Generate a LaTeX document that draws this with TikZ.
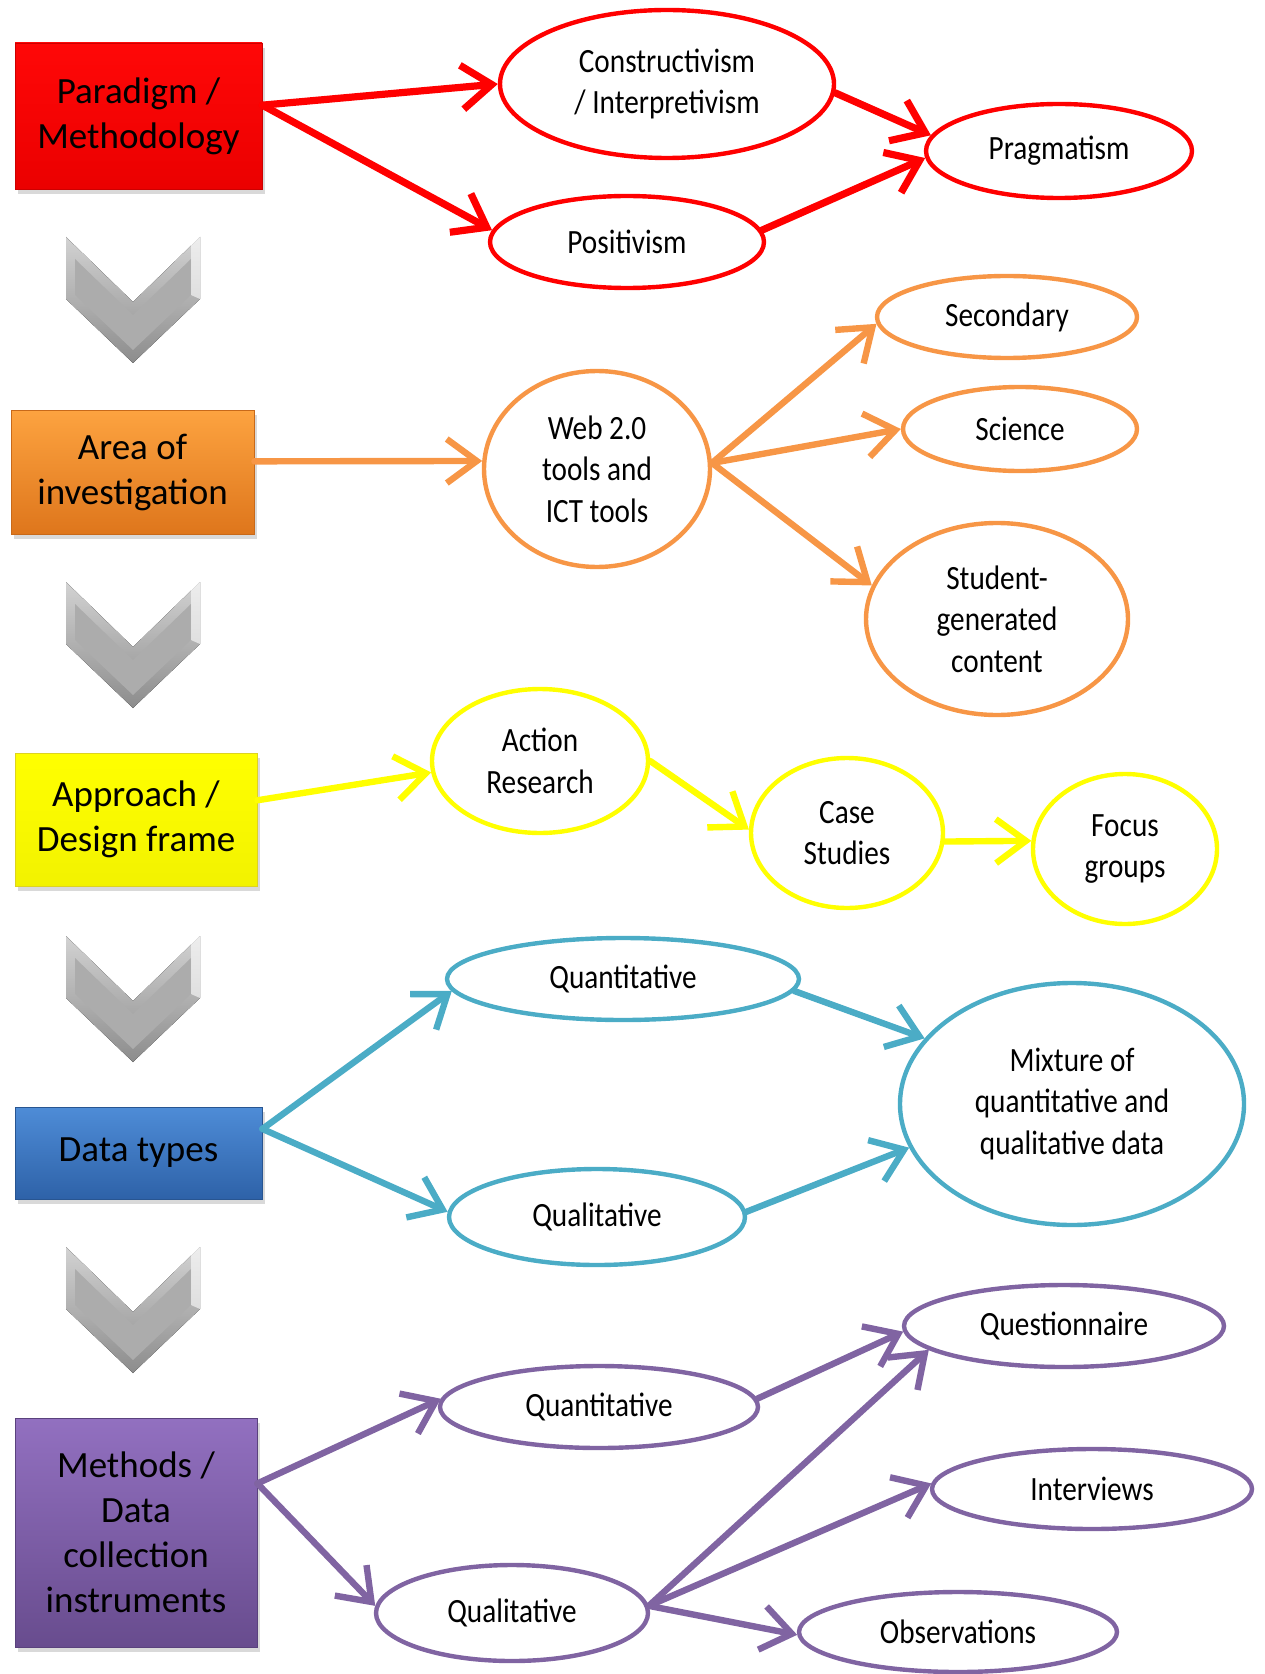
\documentclass[tikz,border=0pt]{standalone}
\usepackage{fontspec}
\setmainfont{Carlito}
\newfontfamily\ellfont[FakeStretch=0.86]{Carlito}
\usepackage{tikz}
\usetikzlibrary{shapes,arrows.meta,positioning,calc,shadows}
\definecolor{cRed}{RGB}{255,0,0}
\definecolor{cOrange}{RGB}{247,150,70}
\definecolor{cYellow}{RGB}{255,255,0}
\definecolor{cAqua}{RGB}{75,172,198}
\definecolor{cPurple}{RGB}{128,100,162}
\definecolor{orgTop}{RGB}{253,163,64}
\definecolor{orgBot}{RGB}{222,118,28}
\definecolor{orgLine}{RGB}{200,105,25}
\definecolor{bluTop}{RGB}{78,140,215}
\definecolor{bluBot}{RGB}{46,98,168}
\definecolor{bluLine}{RGB}{40,85,145}
\definecolor{purTop}{RGB}{146,112,192}
\definecolor{purBot}{RGB}{104,76,142}
\definecolor{purLine}{RGB}{90,66,125}
\definecolor{chevFace}{RGB}{172,172,172}

\begin{document}
\begin{tikzpicture}[
      x=0.5pt,y=-0.5pt,
      box/.style = {rectangle,text centered,align=center,inner sep=0pt,
        font=\fontsize{18.5}{22.5}\selectfont,
        drop shadow={shadow xshift=1.5pt,shadow yshift=-2.5pt,opacity=0.3}},
      oval/.style = {ellipse,draw,fill=white,line width=2.2pt,align=center,inner sep=0pt,
        font=\ellfont\fontsize{17}{20.8}\selectfont},
      arrow/.style = {-{Straight Barb[length=15pt,width=22pt]},line width=3.2pt,line cap=round,line join=round}
    ]
      \useasboundingbox (0,0) rectangle (1264,1674);
      % left column
      \node (para)[box,top color=red!97!white,bottom color=red!92!black,draw=red!80!black,
        minimum width=123.5pt,minimum height=73pt] at (138.5,116) {Paradigm /\\Methodology};
      \node (area)[box,top color=orgTop,bottom color=orgBot,draw=orgLine,
        minimum width=121.5pt,minimum height=62pt] at (132.5,472) {Area of\\investigation};
      \node (appr)[box,top color=yellow,bottom color=yellow!95!black,draw=yellow!85!black,
        minimum width=121pt,minimum height=66.5pt] at (136,819.5) {Approach /\\Design frame};
      \node (dtyp)[box,top color=bluTop,bottom color=bluBot,draw=bluLine,
        minimum width=123.5pt,minimum height=46pt] at (138.5,1153) {Data types};
      \node (meth)[box,top color=purTop,bottom color=purBot,draw=purLine,
        minimum width=121pt,minimum height=114.5pt] at (136,1532.5) {Methods /\\Data\\collection\\instruments};
      % chevrons
      \foreach \t in {237,582,936,1247}{
        \fill[top color=gray!35,bottom color=gray!90] (66,\t) -- (133,\t+65) -- (200,\t) -- (200,\t+62) -- (133,\t+126) -- (66,\t+62) -- cycle;
        \fill[chevFace] (75,\t+22) -- (133,\t+78) -- (191,\t+22) -- (191,\t+58) -- (133,\t+113) -- (75,\t+58) -- cycle;
        \fill[white,opacity=0.6] (191,\t+4) -- (200,\t) -- (200,\t+62) -- (191,\t+58) -- cycle;
      }
      % paradigm
      \node (cons)[oval,draw=cRed,minimum width=167pt,minimum height=74pt] at (667,84) {Constructivism\\/ Interpretivism};
      \node (prag)[oval,draw=cRed,minimum width=133pt,minimum height=47pt] at (1059,151) {Pragmatism};
      \node (posi)[oval,draw=cRed,minimum width=137pt,minimum height=46pt] at (627,242) {Positivism};
      % area
      \node (web)[oval,draw=cOrange,minimum width=113pt,minimum height=98pt] at (597,469) {Web 2.0\\tools and\\ICT tools};
      \node (secd)[oval,draw=cOrange,minimum width=130pt,minimum height=41pt] at (1007,317) {Secondary};
      \node (sci)[oval,draw=cOrange,minimum width=117pt,minimum height=42pt] at (1020,429) {Science};
      \node (stud)[oval,draw=cOrange,minimum width=131pt,minimum height=96pt] at (997,619) {Student-\\generated\\content};
      % approach
      \node (action)[oval,draw=cYellow,minimum width=108pt,minimum height=72pt] at (540,761) {Action\\Research};
      \node (case)[oval,draw=cYellow,minimum width=96pt,minimum height=75pt] at (847,833) {Case\\Studies};
      \node (focus)[oval,draw=cYellow,minimum width=92pt,minimum height=75pt] at (1125,849) {Focus\\groups};
      % data types
      \node (quant)[oval,draw=cAqua,minimum width=176pt,minimum height=41pt] at (623,979) {Quantitative};
      \node (qual)[oval,draw=cAqua,minimum width=148pt,minimum height=48pt] at (597,1217) {Qualitative};
      \node (mix)[oval,draw=cAqua,minimum width=172pt,minimum height=121pt] at (1072,1104) {Mixture of\\quantitative and\\qualitative data};
      % methods
      \node (quest)[oval,draw=cPurple,minimum width=160pt,minimum height=41pt] at (1064,1326) {Questionnaire};
      \node (mquant)[oval,draw=cPurple,minimum width=159pt,minimum height=41pt] at (599,1407) {Quantitative};
      \node (interv)[oval,draw=cPurple,minimum width=160pt,minimum height=40pt] at (1092,1489) {Interviews};
      \node (mqual)[oval,draw=cPurple,minimum width=136pt,minimum height=48pt] at (512,1613) {Qualitative};
      \node (obs)[oval,draw=cPurple,minimum width=159pt,minimum height=40pt] at (958,1632) {Observations};

      \draw [arrow,cRed,line width=3.6pt] (para.5) -- (cons.180);
      \draw [arrow,cRed,line width=3.6pt] (para.5) -- (posi.175);
      \draw [arrow,cRed,line width=3.6pt] (cons.-3) -- (prag.173);
      \draw [arrow,cRed,line width=3.6pt] (posi.5) -- (prag.183);

      \draw [arrow,cOrange] (area.5) -- (web.176);
      \draw [arrow,cOrange] (web.3) -- (secd.183);
      \draw [arrow,cOrange] (web.3) -- (sci.180);
      \draw [arrow,cOrange] (web.3) -- (stud.165);

      \draw [arrow,cYellow] (appr.9) -- (action.186);
      \draw [arrow,cYellow] (action.0) -- (case.178);
      \draw [arrow,cYellow] (case.-5) -- (focus.175);

      \draw [arrow,cAqua] (dtyp.11) -- (quant.184);
      \draw [arrow,cAqua] (dtyp.11) -- (qual.178);
      \draw [arrow,cAqua] (quant.-4) -- (mix.156);
      \draw [arrow,cAqua] (qual.2) -- (mix.195);

      \draw [arrow,cPurple] (meth.22) -- (mquant.177);
      \draw [arrow,cPurple] (meth.22) -- (mqual.177);
      \draw [arrow,cPurple] (mquant.3) -- (quest.182);
      \draw [arrow,cPurple] (mqual.3) -- (quest.190);
      \draw [arrow,cPurple] (mqual.3) -- (interv.178);
      \draw [arrow,cPurple] (mqual.3) -- (obs.181);
    \end{tikzpicture}
\end{document}
